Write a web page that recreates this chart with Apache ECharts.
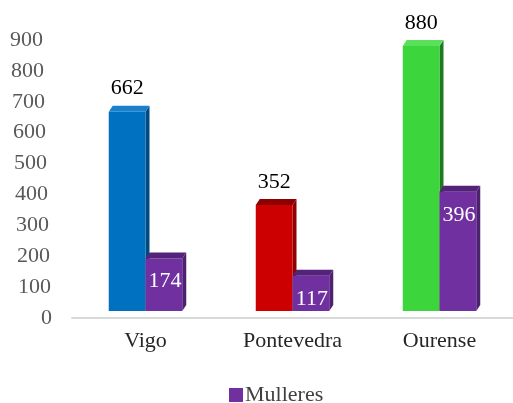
<!DOCTYPE html>
<html><head><meta charset="utf-8">
<script src="https://cdn.jsdelivr.net/npm/echarts@6/dist/echarts.min.js"></script>
<style>html,body{margin:0;padding:0;background:#fff}#c{width:513px;height:403px}</style>
</head><body><div id="c"></div>
<script>
const categories = ['Vigo', 'Pontevedra', 'Ourense'];
const totalValues = [662, 352, 880];
const mulleresValues = [174, 117, 396];
const yTicks = [0, 100, 200, 300, 400, 500, 600, 700, 800, 900];

const totalColors = [
  {front:'#0070c0', top:'#1a80cc', side:'#004a80'},
  {front:'#cc0000', top:'#8e0000', side:'#900000'},
  {front:'#3cd63c', top:'#5ae05a', side:'#1f7a1f'}
];
const purple = {front:'#7030a0', top:'#54227a', side:'#4e2070'};
const FONT = 'Liberation Serif';

function makeRender(seriesIdx, colorsFn, labelMode) {
  return function (params, api) {
    const ci = api.value(0), v = api.value(1);
    const base = api.coord([ci, 0]);
    const top = api.coord([ci, v]);
    const band = api.size([1, 0])[0];
    const w = band * 0.25;
    const x0 = seriesIdx === 0 ? base[0] - w : base[0];
    const x1 = x0 + w;
    const lift = 7;
    const yB = base[1] - lift;
    const yT = yB - (base[1] - top[1]) * 0.975;
    const d = 4, dy = 6;
    const c = colorsFn(ci);
    const children = [
      {type:'polygon', shape:{points:[[x1,yT],[x1+d,yT-dy],[x1+d,yB-dy],[x1,yB]]}, style:{fill:c.side}},
      {type:'rect', shape:{x:x0, y:yT, width:w, height:yB-yT}, style:{fill:c.front}},
      {type:'polygon', shape:{points:[[x0,yT],[x0+d,yT-dy],[x1+d,yT-dy],[x1,yT]]}, style:{fill:c.top}}
    ];
    if (labelMode === 'above') {
      children.push({type:'text', style:{text:String(v), x:(x0+x1)/2, y:yT-dy-6,
        align:'center', verticalAlign:'bottom', font:'22px "' + FONT + '", serif', fill:'#000'}});
    } else {
      children.push({type:'text', style:{text:String(v), x:(x0+x1)/2+1, y:yT+23,
        align:'center', verticalAlign:'middle', font:'22px "' + FONT + '", serif', fill:'#fff'}});
    }
    return {type:'group', children};
  };
}

const rich = {};
for (let i = 0; i <= 9; i++) {
  rich['p' + i] = {fontFamily: FONT, fontSize: 22, color:'#595959', padding:[0, i, 0, 0]};
}
const legendText = {fontFamily: '"Liberation Serif", serif', fontSize: 22, color: '#404040', padding: [0, 0, 0, -3]};

const chart = echarts.init(document.getElementById('c'), null, {renderer:'canvas'});
chart.setOption({
  animation: false,
  textStyle: {fontFamily: FONT},
  grid: {left: 72, right: -2, top: 40, bottom: 85},
  legend: {
    data: [{name: 'Mulleres', textStyle: legendText}],
    bottom: -8, left: 224, icon: 'rect', itemWidth: 14, itemHeight: 14, itemGap: 5,
    textStyle: legendText
  },
  xAxis: {
    type: 'category', data: categories,
    axisLine: {lineStyle: {color: '#d9d9d9', width: 2}},
    axisTick: {show: false},
    axisLabel: {fontFamily: FONT, fontSize: 22, color: '#262626', margin: 12}
  },
  yAxis: {
    type: 'value', min: yTicks[0], max: yTicks[yTicks.length-1], interval: 100,
    splitLine: {show: false}, axisLine: {show: false}, axisTick: {show: false},
    axisLabel: {margin: 20, rich, formatter: v => '{p' + Math.round(v/100) + '|' + v + '}'}
  },
  series: [
    {name: 'Total', type: 'custom', itemStyle: {color: '#0070c0'},
     label: {fontFamily: FONT},
     renderItem: makeRender(0, ci => totalColors[ci], 'above'),
     data: totalValues.map((v, i) => [i, v])},
    {name: 'Mulleres', type: 'custom', itemStyle: {color: '#7030a0'},
     label: {fontFamily: FONT},
     renderItem: makeRender(1, () => purple, 'inside'),
     data: mulleresValues.map((v, i) => [i, v])}
  ]
});
</script></body></html>
